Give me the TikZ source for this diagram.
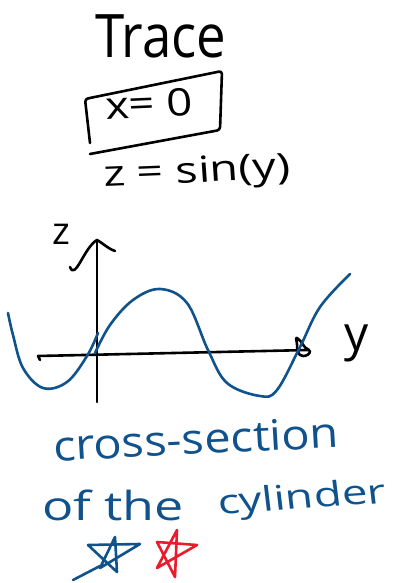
\documentclass[tikz,border=0pt]{standalone}
\usepackage{fontspec}
\setmainfont{Open Sans}
\definecolor{ink}{RGB}{16,82,140}
\definecolor{redink}{RGB}{232,28,44}
\begin{document}
\begin{tikzpicture}[x=1pt,y=-1pt,line cap=round,line join=round,
  pen/.style={line width=2.6pt,draw=black},
  bluepen/.style={line width=2.6pt,draw=ink},
  redpen/.style={line width=2.6pt,draw=redink},
  hand/.style={inner sep=0pt,outer sep=0pt,anchor=base west}]
\useasboundingbox (0,0) rectangle (398,583);

% title
\node[hand,font=\fontsize{60}{60}\selectfont,xscale=0.88] (trace) at (95,58) {Trace};

% boxed equation
\node[hand,font=\fontsize{38}{38}\selectfont,xscale=1.2,rotate=3] (xeq) at (106,119) {x= 0};
\draw[pen,rounded corners=3pt] (90,143) -- (85,99) -- (222,71) -- (220,130) -- (90,154);

\node[hand,font=\fontsize{36}{36}\selectfont,xscale=1.3,rotate=3] (zeq) at (104,186) {z = sin(y)};

% axes
\coordinate (vbot) at (97,402);
\coordinate (vtop) at (97,240);
\coordinate (hleft) at (38,356);
\coordinate (hright) at (309,350);
\draw[pen] (vbot) -- (vtop);
\draw[pen] (70,267) to[out=-70,in=-150] (vtop) to[out=-30,in=160] (115,251);
\draw[pen] (40,360) -- (hleft) -- (hright);
\draw[pen] (hright) to[out=160,in=-30] (297,338) to[out=150,in=90] (297,344) to[out=-90,in=180] (303,356) to[out=0,in=-90] (310,351);
\node[anchor=center,inner sep=0pt,font=\fontsize{38}{38}\selectfont] (zlab) at (61,234) {z};
\node[anchor=center,inner sep=0pt,font=\fontsize{48}{48}\selectfont] (ylab) at (357,343) {y};

% sine curve
\draw[bluepen] plot[smooth,tension=0.6] coordinates {(8,313) (13,335) (23,368) (43,388) (67,382) (87,356) (98,333)};
\draw[bluepen] plot[smooth,tension=0.6] coordinates {(95,353) (110,325) (133,300) (160,289) (187,303) (208,350) (227,383) (260,396) (277,390) (300,347) (320,307) (350,274)};

% caption
\node[hand,font=\fontsize{42}{42}\selectfont,text=ink,xscale=1.12,rotate=3] (cross) at (54,461) {cross-section};
\node[hand,font=\fontsize{40}{40}\selectfont,text=ink,xscale=1.3] (ofthe) at (42,520) {of the};
\node[hand,font=\fontsize{34}{34}\selectfont,text=ink,xscale=1.35,rotate=5] (cyl) at (219,514) {cylinder};

% stars
\draw[bluepen] (115,537) -- (100,568) -- (140,544) -- (88,545) -- (117,572) -- cycle;
\draw[bluepen] (100,566) -- (73,580);
\draw[redpen] (177,530) -- (157,568) -- (197,545) -- (157,542) -- (175,577) -- cycle;
\end{tikzpicture}
\end{document}
